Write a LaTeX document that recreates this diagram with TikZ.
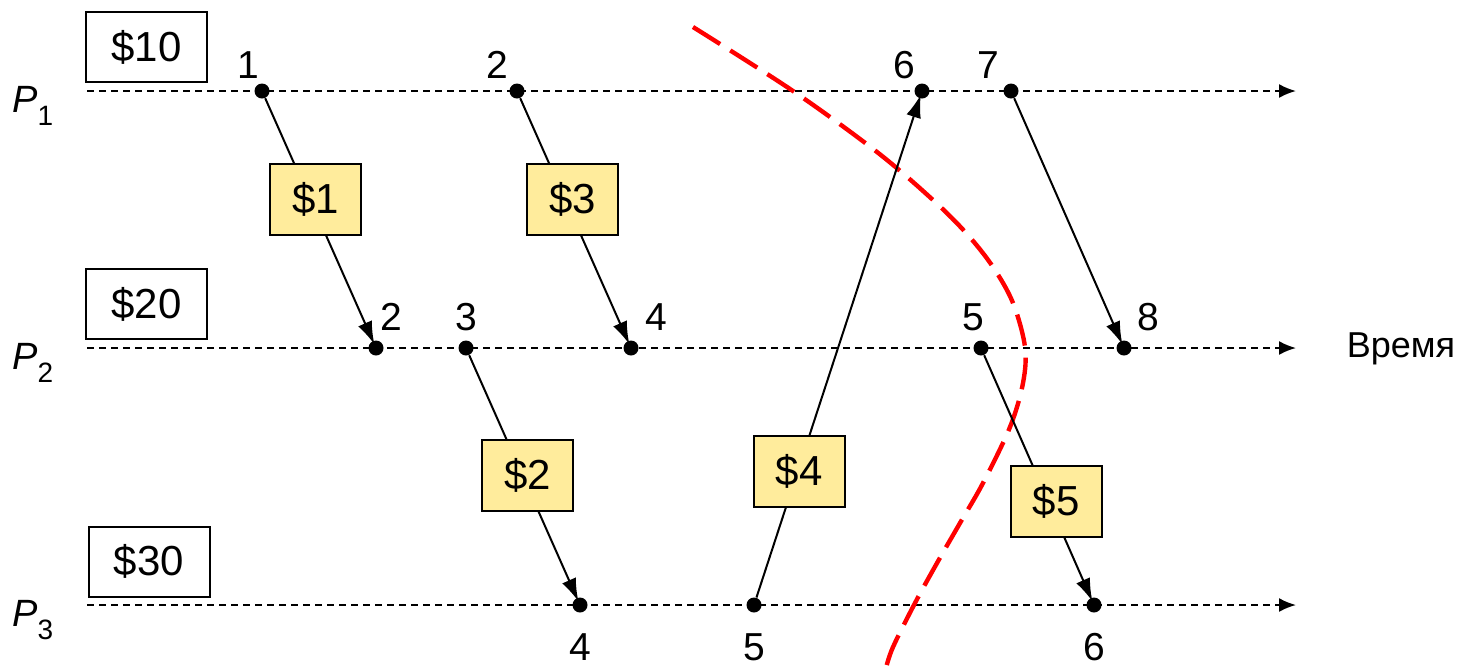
\documentclass[tikz,border=0pt]{standalone}
\usepackage{fontspec}
\setmainfont{Liberation Sans}
\usetikzlibrary{arrows.meta}
\definecolor{boxyellow}{HTML}{FFEC9C}
\begin{document}
\begin{tikzpicture}[x=0.5pt,y=-0.5pt,
  timeline/.style={line width=1pt,dash pattern=on 3.5pt off 2.5pt,-{Latex[length=8.5pt,width=7pt]}},
  evt/.style={circle,fill=black,inner sep=0pt,minimum size=7.5pt},
  num/.style={font=\fontsize{19.5}{22}\selectfont,inner sep=0pt},
  msgarrow/.style={line width=1pt,-{Latex[length=11.5pt,width=7.5pt]},shorten >=-2pt},
  money/.style={draw=black,line width=1pt,fill=boxyellow,minimum width=45.5pt,minimum height=35.5pt,inner sep=0pt,font=\fontsize{21}{24}\selectfont},
  balance/.style={draw=black,line width=1pt,fill=white,minimum width=60.5pt,minimum height=35pt,inner sep=0pt,font=\fontsize{21}{24}\selectfont},
  proc/.style={font=\fontsize{19}{22}\selectfont\itshape,inner sep=0pt,anchor=base west},
  cut/.style={red,line width=2.2pt,dash pattern=on 16pt off 6pt}
]
\useasboundingbox (0,0) rectangle (1460,666);

% process timelines
\coordinate (s1) at (87,91);  \coordinate (t1) at (1296,91);
\coordinate (s2) at (87,348); \coordinate (t2) at (1296,348);
\coordinate (s3) at (87,605); \coordinate (t3) at (1296,605);
\draw[timeline] (s1) -- (t1);
\draw[timeline] (s2) -- (t2);
\draw[timeline] (s3) -- (t3);

% process labels
\node[proc] (p1) at (12,112) {P\raisebox{-0.35em}{\upshape\fontsize{14}{16}\selectfont 1}};
\node[proc] (p2) at (12,369) {P\raisebox{-0.35em}{\upshape\fontsize{14}{16}\selectfont 2}};
\node[proc] (p3) at (12,626) {P\raisebox{-0.35em}{\upshape\fontsize{14}{16}\selectfont 3}};

% balances
\node[balance] (b1) at (146.5,47) {\$10};
\node[balance] (b2) at (146.5,304) {\$20};
\node[balance] (b3) at (149,561.5) {\$30};

\node[font=\fontsize{18}{20}\selectfont,inner sep=0pt] (time) at (1401,349) {Время};

% red cut
\draw[cut] plot[smooth,tension=0.55] coordinates {(693,27) (793,91) (877,152) (933,200) (967,234) (993,267) (1013,303) (1025,347) (1023,383) (1010,427) (983,483) (960,523) (937,563) (915,603) (893,647) (886,668)};

% events
\node[evt] (e11) at (262,91) {};
\node[evt] (e12) at (517,91) {};
\node[evt] (e16) at (922,91) {};
\node[evt] (e17) at (1011,91) {};
\node[evt] (e22) at (376,348) {};
\node[evt] (e23) at (466,348) {};
\node[evt] (e24) at (631,348) {};
\node[evt] (e25) at (981,348) {};
\node[evt] (e28) at (1124,348) {};
\node[evt] (e34) at (580,605) {};
\node[evt] (e35) at (754,605) {};
\node[evt] (e36) at (1094,605) {};

% event numbers
\node[num] (n11) at (248,65) {1};
\node[num] (n12) at (497,65) {2};
\node[num] (n16) at (904,65) {6};
\node[num] (n17) at (988,65) {7};
\node[num] (n22) at (391,317) {2};
\node[num] (n23) at (466,317) {3};
\node[num] (n24) at (656,317) {4};
\node[num] (n25) at (973,317) {5};
\node[num] (n28) at (1148,317) {8};
\node[num] (n34) at (580,647) {4};
\node[num] (n35) at (754,647) {5};
\node[num] (n36) at (1094,647) {6};

% messages (lines first, money boxes on top)
\draw[msgarrow] (e11) -- (e22);
\draw[msgarrow] (e12) -- (e24);
\draw[msgarrow] (e23) -- (e34);
\draw[msgarrow] (e35) -- (e16);
\draw[msgarrow] (e25) -- (e36);
\draw[msgarrow] (e17) -- (e28);

\node[money] (m1) at (315.5,199) {\$1};
\node[money] (m3) at (572.5,199) {\$3};
\node[money] (m2) at (527.5,475.5) {\$2};
\node[money] (m4) at (799,471) {\$4};
\node[money] (m5) at (1056,501.5) {\$5};
\end{tikzpicture}
\end{document}
